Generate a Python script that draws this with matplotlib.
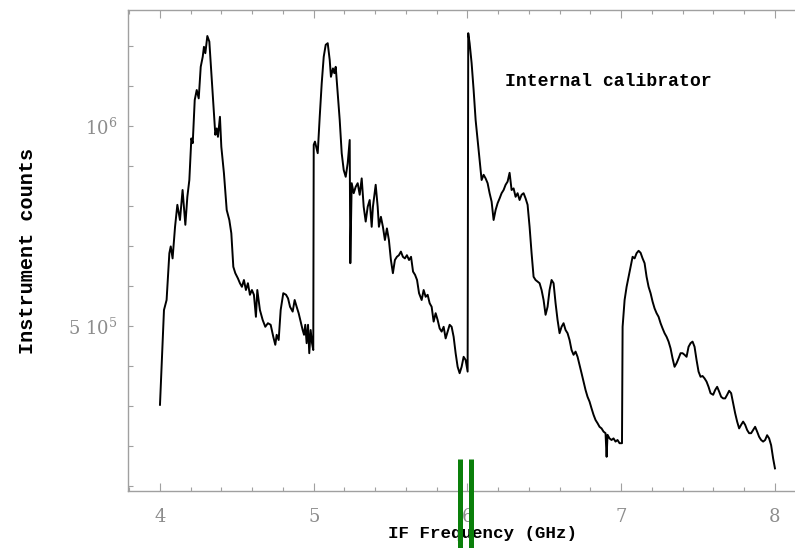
"""
Internal calibrator spectrum: instrument counts vs IF frequency.
"""
import matplotlib
matplotlib.use("Agg")
import matplotlib.pyplot as plt
import matplotlib.transforms as mtransforms
from matplotlib.ticker import FixedLocator, MultipleLocator

# IF frequency (GHz)
freq = [
    4.000, 4.026, 4.043, 4.061, 4.070, 4.082, 4.098, 4.113, 4.130, 4.147,
    4.165, 4.178, 4.191, 4.204, 4.213, 4.226, 4.239, 4.252, 4.265, 4.278,
    4.286, 4.295, 4.308, 4.321, 4.334, 4.347, 4.360, 4.369, 4.377, 4.390,
    4.399, 4.416, 4.434, 4.451, 4.464, 4.477, 4.490, 4.507, 4.520, 4.533,
    4.546, 4.559, 4.572, 4.585, 4.598, 4.611, 4.624, 4.633, 4.650, 4.668,
    4.685, 4.702, 4.720, 4.737, 4.750, 4.759, 4.772, 4.785, 4.802, 4.820,
    4.833, 4.846, 4.863, 4.876, 4.889, 4.902, 4.915, 4.928, 4.937, 4.945,
    4.954, 4.963, 4.971, 4.980, 4.989, 4.997,
    5.000, 5.008, 5.026, 5.039, 5.052, 5.065, 5.078, 5.091, 5.104, 5.112,
    5.125, 5.134, 5.143, 5.156, 5.169, 5.182, 5.195, 5.208, 5.221, 5.234,
    5.238, 5.247, 5.260, 5.273, 5.286, 5.299, 5.312, 5.325, 5.338, 5.351,
    5.364, 5.377, 5.385, 5.403, 5.416, 5.424, 5.437, 5.450, 5.463, 5.476,
    5.489, 5.502, 5.515, 5.528, 5.541, 5.554, 5.567, 5.580, 5.593, 5.606,
    5.620, 5.633, 5.646, 5.659, 5.672, 5.685, 5.702, 5.715, 5.728, 5.741,
    5.754, 5.767, 5.780, 5.793, 5.806, 5.819, 5.832, 5.845, 5.858, 5.871,
    5.884, 5.897, 5.910, 5.923, 5.936, 5.949, 5.962, 5.975, 5.988, 6.001,
    6.005, 6.014, 6.027, 6.040, 6.053, 6.066, 6.079, 6.092, 6.105, 6.118,
    6.131, 6.144, 6.157, 6.170, 6.183, 6.196, 6.209, 6.222, 6.235, 6.248,
    6.261, 6.274, 6.287, 6.300, 6.313, 6.326, 6.339, 6.352, 6.365, 6.378,
    6.391, 6.404, 6.417, 6.430, 6.443, 6.456, 6.469, 6.482, 6.495, 6.508,
    6.521, 6.534, 6.547, 6.560, 6.573, 6.586, 6.599, 6.612, 6.625, 6.638,
    6.651, 6.664, 6.677, 6.690, 6.703, 6.716, 6.729, 6.742, 6.755, 6.768,
    6.781, 6.794, 6.807, 6.820, 6.833, 6.846, 6.859, 6.872, 6.885, 6.898,
    6.905, 6.911, 6.924, 6.937, 6.950, 6.963, 6.976, 6.989, 7.005,
    7.009, 7.022, 7.035, 7.048, 7.061, 7.074, 7.087, 7.100, 7.113, 7.126,
    7.139, 7.152, 7.165, 7.178, 7.191, 7.204, 7.217, 7.230, 7.243, 7.256,
    7.269, 7.282, 7.295, 7.308, 7.321, 7.334, 7.347, 7.360, 7.373, 7.386,
    7.399, 7.412, 7.425, 7.438, 7.451, 7.464, 7.477, 7.490, 7.503, 7.516,
    7.529, 7.542, 7.555, 7.568, 7.581, 7.598, 7.611, 7.624, 7.637, 7.650,
    7.663, 7.676, 7.689, 7.702, 7.715, 7.728, 7.741, 7.754, 7.767, 7.780,
    7.793, 7.806, 7.819, 7.832, 7.845, 7.858, 7.871, 7.884, 7.897, 7.910,
    7.923, 7.936, 7.949, 7.962, 7.975, 7.988, 8.000,
]

# counts in units of 1e5
counts_e5 = [
    3.04, 5.41, 5.66, 6.83, 7.00, 6.70, 7.49, 8.04, 7.66, 8.41,
    7.54, 8.24, 8.66, 9.70, 9.58, 10.66, 10.91, 10.70, 11.49, 11.74,
    11.99, 11.83, 12.26, 12.12, 11.33, 10.58, 9.79, 9.95, 9.74, 10.24,
    9.49, 8.83, 7.91, 7.66, 7.33, 6.49, 6.33, 6.20, 6.08, 5.99,
    6.16, 5.91, 6.08, 5.79, 5.91, 5.79, 5.24, 5.91, 5.41, 5.16,
    4.99, 5.08, 5.04, 4.74, 4.54, 4.79, 4.66, 5.41, 5.83, 5.79,
    5.70, 5.49, 5.37, 5.66, 5.49, 5.33, 5.12, 4.91, 4.79, 5.04,
    4.58, 5.04, 4.33, 4.91, 4.58, 4.41,
    9.54, 9.62, 9.33, 10.24, 11.08, 11.74, 12.04, 12.08, 11.66, 11.24,
    11.45, 11.33, 11.49, 10.83, 10.16, 9.33, 8.91, 8.74, 9.08, 9.66,
    6.58, 8.58, 8.33, 8.49, 8.58, 8.29, 8.70, 7.99, 7.62, 7.99,
    8.16, 7.49, 7.99, 8.54, 7.99, 7.49, 7.74, 7.49, 7.16, 7.45,
    7.16, 6.66, 6.33, 6.66, 6.74, 6.78, 6.87, 6.74, 6.70, 6.78,
    6.66, 6.74, 6.37, 6.29, 6.16, 5.83, 5.66, 5.91, 5.74, 5.79,
    5.58, 5.49, 5.12, 5.33, 5.16, 4.95, 4.87, 4.99, 4.70, 4.87,
    5.04, 4.99, 4.74, 4.33, 3.99, 3.83, 3.99, 4.24, 4.16, 3.87,
    12.33, 12.08, 11.58, 10.91, 10.16, 9.66, 9.16, 8.66, 8.79, 8.70,
    8.58, 8.33, 8.12, 7.66, 7.91, 8.08, 8.20, 8.33, 8.41, 8.54,
    8.62, 8.84, 8.41, 8.45, 8.24, 8.33, 8.16, 8.29, 8.33, 8.20,
    8.04, 7.49, 6.83, 6.24, 6.16, 6.12, 6.08, 5.91, 5.66, 5.29,
    5.49, 5.91, 6.16, 6.08, 5.58, 5.16, 4.83, 4.99, 5.08, 4.91,
    4.83, 4.66, 4.41, 4.29, 4.37, 4.24, 4.04, 3.83, 3.62, 3.41,
    3.24, 3.12, 2.95, 2.79, 2.66, 2.58, 2.49, 2.45, 2.37, 2.33,
    1.74, 2.29, 2.20, 2.16, 2.20, 2.12, 2.16, 2.08, 2.08,
    4.99, 5.66, 5.99, 6.24, 6.49, 6.74, 6.70, 6.83, 6.89, 6.84,
    6.70, 6.58, 6.24, 5.99, 5.83, 5.62, 5.45, 5.33, 5.24, 5.08,
    4.95, 4.83, 4.74, 4.62, 4.45, 4.20, 3.99, 4.08, 4.20, 4.33,
    4.33, 4.29, 4.24, 4.49, 4.58, 4.62, 4.49, 4.16, 3.87, 3.74,
    3.76, 3.70, 3.62, 3.49, 3.33, 3.29, 3.41, 3.49, 3.37, 3.24,
    3.20, 3.20, 3.29, 3.39, 3.33, 3.08, 2.83, 2.62, 2.45, 2.54,
    2.62, 2.54, 2.41, 2.33, 2.33, 2.41, 2.49, 2.37, 2.24, 2.16,
    2.12, 2.16, 2.28, 2.20, 2.03, 1.70, 1.45,
]

# marker positions (GHz) of the two green bars
marker_freqs = [5.95, 6.02]

ytick_vals = [1e5 * k for k in range(1, 13)]
ytick_text = {5e5: r"$5\ 10^5$", 1e6: r"$10^6$"}

GRAY = "#a0a0a0"
LABEL_FONT = ["Liberation Mono", "DejaVu Sans Mono"]

plt.rcParams["mathtext.fontset"] = "dejavuserif"


def main() -> None:
    counts = [c * 1e5 for c in counts_e5]

    fig = plt.figure(figsize=(7.95, 5.48), dpi=100)
    ax = fig.add_axes([128 / 795, 57 / 548, 708 / 795, 481 / 548])

    ax.plot(freq, counts, color="black", lw=1.4, solid_joinstyle="round")

    ax.set_xlim(3.792, 8.397)
    ax.set_ylim(0.885e5, 1.291e6)

    # axes frame: light gray, right side falls off the picture
    for side in ("left", "bottom", "top"):
        ax.spines[side].set_color(GRAY)
        ax.spines[side].set_linewidth(1.0)
    ax.spines["right"].set_visible(False)

    ax.xaxis.set_major_locator(MultipleLocator(1))
    ax.xaxis.set_minor_locator(MultipleLocator(0.2))
    ax.yaxis.set_major_locator(FixedLocator(ytick_vals))
    ax.set_yticklabels([ytick_text.get(v, "") for v in ytick_vals])

    ax.tick_params(axis="x", which="major", direction="in", length=5.8, width=0.8,
                   color=GRAY, top=True, labelcolor="#8c8c8c", labelsize=13, pad=12)
    ax.tick_params(axis="x", which="minor", direction="in", length=3.2, width=0.8,
                   color=GRAY, top=True)
    ax.tick_params(axis="y", which="major", direction="in", length=3.6, width=0.8,
                   color=GRAY, labelcolor="#8c8c8c", labelsize=13, pad=8)
    for lab in ax.get_xticklabels() + ax.get_yticklabels():
        lab.set_family("DejaVu Serif")

    ax.set_xlabel("IF Frequency (GHz)", family=LABEL_FONT, fontsize=12.6,
                  fontweight="bold", labelpad=0)
    ax.set_ylabel("Instrument counts", family=LABEL_FONT, fontsize=14.5,
                  fontweight="bold", labelpad=22)

    ax.text(6.244, 11.11e5, "Internal calibrator", family=LABEL_FONT,
            fontsize=13.1, fontweight="bold", ha="left", va="center")

    # green markers straddling the bottom axis
    trans = mtransforms.blended_transform_factory(ax.transData, ax.transAxes)
    for f in marker_freqs:
        ax.plot([f, f], [0.0665, -0.3], color="#0a7f0a", lw=3.6,
                transform=trans, clip_on=False, zorder=5, solid_capstyle="butt")

    fig.savefig("out.png", dpi=100)


if __name__ == "__main__":
    main()
